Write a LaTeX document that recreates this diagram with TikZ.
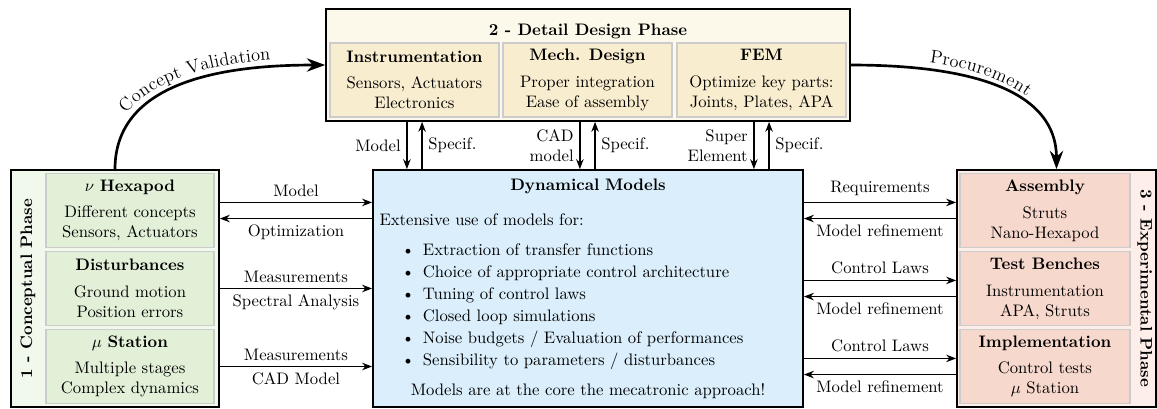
\documentclass[tikz,border=0pt]{standalone}
\usepackage{amsmath}
\usepackage{amssymb}
\usepackage{tikz}
\usetikzlibrary{arrows.meta}
\usetikzlibrary{decorations.text}
\definecolor{conceptback}{HTML}{F1F8EC}
\definecolor{conceptfill}{HTML}{E3F0D8}
\definecolor{designback}{HTML}{FCF8EA}
\definecolor{designfill}{HTML}{F9EDD0}
\definecolor{dynfill}{HTML}{DAEEFC}
\definecolor{experback}{HTML}{FDEEE9}
\definecolor{experfill}{HTML}{F7D8CC}
\definecolor{subborder}{HTML}{CCCCCC}
\tikzstyle{phasebox}=[draw, line width=1pt, inner sep=0pt]
\tikzstyle{subbox}=[draw=subborder, thick, align=center, inner sep=2pt, minimum height=1.56cm]
\tikzstyle{linkarrow}=[thick, -{Stealth[length=6pt]}]
\tikzstyle{flowarrow}=[ultra thick, -{Stealth[length=11pt, width=8pt]}]

\begin{document}
\begin{tikzpicture}
    \useasboundingbox (0,0) rectangle (24.40,8.625);
    % 1 - Conceptual Phase
    \node[phasebox, fill=conceptback, minimum width=4.386cm, minimum height=4.998cm] (concept) at (2.425, 2.541) {};
    \node[rotate=90, font=\bfseries] (conceptlbl) at (0.59, 2.541) {1 - Conceptual Phase};
    \node[subbox, fill=conceptfill, minimum width=3.543cm] (hexapod) at (2.741, 4.186) {$\nu$ \textbf{Hexapod}\\[4pt] Different concepts\\ Sensors, Actuators};
    \node[subbox, fill=conceptfill, minimum width=3.543cm] (disturb) at (2.741, 2.541) {\textbf{Disturbances}\\[4pt] Ground motion\\ Position errors};
    \node[subbox, fill=conceptfill, minimum width=3.543cm] (station) at (2.741, 0.896) {$\mu$ \textbf{Station}\\[4pt] Multiple stages\\ Complex dynamics};
    % 2 - Detail Design Phase
    \node[phasebox, fill=designback, minimum width=11.05cm, minimum height=2.362cm] (design) at (12.40, 7.254) {};
    \node[font=\bfseries] (designlbl) at (12.40, 7.97) {2 - Detail Design Phase};
    \node[subbox, fill=designfill, minimum width=3.564cm] (instr) at (8.741, 6.938) {\textbf{Instrumentation}\\[4pt] Sensors, Actuators\\ Electronics};
    \node[subbox, fill=designfill, minimum width=3.564cm] (mech) at (12.389, 6.938) {\textbf{Mech. Design}\\[4pt] Proper integration\\ Ease of assembly};
    \node[subbox, fill=designfill, minimum width=3.564cm] (fem) at (16.059, 6.938) {\textbf{FEM}\\[4pt] Optimize key parts:\\ Joints, Plates, APA};
    % Dynamical Models
    \node[phasebox, fill=dynfill, inner sep=4pt, text width=8.79cm, minimum height=4.998cm, align=left] (dyn) at (12.40, 2.541) {%
        {\centering\textbf{Dynamical Models}\par}\vspace{9pt}
        Extensive use of models for:
        \begin{list}{\textbullet}{\setlength{\topsep}{6pt}\setlength{\itemsep}{1.2pt}\setlength{\parsep}{0pt}\setlength{\leftmargin}{26pt}}
            \item Extraction of transfer functions
            \item Choice of appropriate control architecture
            \item Tuning of control laws
            \item Closed loop simulations
            \item Noise budgets / Evaluation of performances
            \item Sensibility to parameters / disturbances
        \end{list}
        {\centering Models are at the core the mecatronic approach!\par}};
    % 3 - Experimental Phase
    \node[phasebox, fill=experback, minimum width=4.197cm, minimum height=4.998cm] (exper) at (22.28, 2.541) {};
    \node[rotate=-90, font=\bfseries] (experlbl) at (24.14, 2.541) {3 - Experimental Phase};
    \node[subbox, fill=experfill, minimum width=3.585cm] (assembly) at (22.037, 4.186) {\textbf{Assembly}\\[4pt] Struts\\ Nano-Hexapod};
    \node[subbox, fill=experfill, minimum width=3.585cm] (bench) at (22.037, 2.541) {\textbf{Test Benches}\\[4pt] Instrumentation\\ APA, Struts};
    \node[subbox, fill=experfill, minimum width=3.585cm] (implem) at (22.037, 0.896) {\textbf{Implementation}\\[4pt] Control tests\\ $\mu$ Station};

    % phase to phase
    \draw[flowarrow] (concept.north) to[out=90, in=180] (design.west);
    \path[decorate, decoration={text along path, text align=center, raise=4pt, text={|\fontsize{11}{13}\selectfont|Concept Validation}}] (concept.north) to[out=90, in=180] (design.west);
    \draw[flowarrow] (design.east) to[out=0, in=90] (exper.north);
    \path[decorate, decoration={text along path, text align=center, raise=4pt, text={|\fontsize{11}{13}\selectfont|Procurement}}] (design.east) to[out=0, in=90] (exper.north);

    % design <-> models
    \draw[linkarrow] ([xshift=-0.16cm]instr.south |- design.south) -- node[left]{Model} ([xshift=-0.16cm]instr.south |- dyn.north);
    \draw[linkarrow] ([xshift=0.16cm]instr.south |- dyn.north) -- node[right]{Specif.} ([xshift=0.16cm]instr.south |- design.south);
    \draw[linkarrow] ([xshift=-0.16cm]mech.south |- design.south) -- node[left, align=right]{CAD\\model} ([xshift=-0.16cm]mech.south |- dyn.north);
    \draw[linkarrow] ([xshift=0.16cm]mech.south |- dyn.north) -- node[right]{Specif.} ([xshift=0.16cm]mech.south |- design.south);
    \draw[linkarrow] ([xshift=-0.16cm]fem.south |- design.south) -- node[left, align=right]{Super\\Element} ([xshift=-0.16cm]fem.south |- dyn.north);
    \draw[linkarrow] ([xshift=0.16cm]fem.south |- dyn.north) -- node[right]{Specif.} ([xshift=0.16cm]fem.south |- design.south);

    % concept <-> models
    \draw[linkarrow] ([yshift=0.17cm]hexapod.east -| concept.east) -- node[above]{Model} ([yshift=0.17cm]hexapod.east -| dyn.west);
    \draw[linkarrow] ([yshift=-0.17cm]hexapod.east -| dyn.west) -- node[below]{Optimization} ([yshift=-0.17cm]hexapod.east -| concept.east);
    \draw[linkarrow] (disturb.east -| concept.east) -- node[above]{Measurements} node[below]{Spectral Analysis} (disturb.east -| dyn.west);
    \draw[linkarrow] (station.east -| concept.east) -- node[above]{Measurements} node[below]{CAD Model} (station.east -| dyn.west);

    % models <-> experimental
    \draw[linkarrow] ([yshift=0.17cm]assembly.west -| dyn.east) -- node[above]{Requirements} ([yshift=0.17cm]assembly.west -| exper.west);
    \draw[linkarrow] ([yshift=-0.17cm]assembly.west -| exper.west) -- node[below]{Model refinement} ([yshift=-0.17cm]assembly.west -| dyn.east);
    \draw[linkarrow] ([yshift=0.17cm]bench.west -| dyn.east) -- node[above]{Control Laws} ([yshift=0.17cm]bench.west -| exper.west);
    \draw[linkarrow] ([yshift=-0.17cm]bench.west -| exper.west) -- node[below]{Model refinement} ([yshift=-0.17cm]bench.west -| dyn.east);
    \draw[linkarrow] ([yshift=0.17cm]implem.west -| dyn.east) -- node[above]{Control Laws} ([yshift=0.17cm]implem.west -| exper.west);
    \draw[linkarrow] ([yshift=-0.17cm]implem.west -| exper.west) -- node[below]{Model refinement} ([yshift=-0.17cm]implem.west -| dyn.east);
\end{tikzpicture}
\end{document}
